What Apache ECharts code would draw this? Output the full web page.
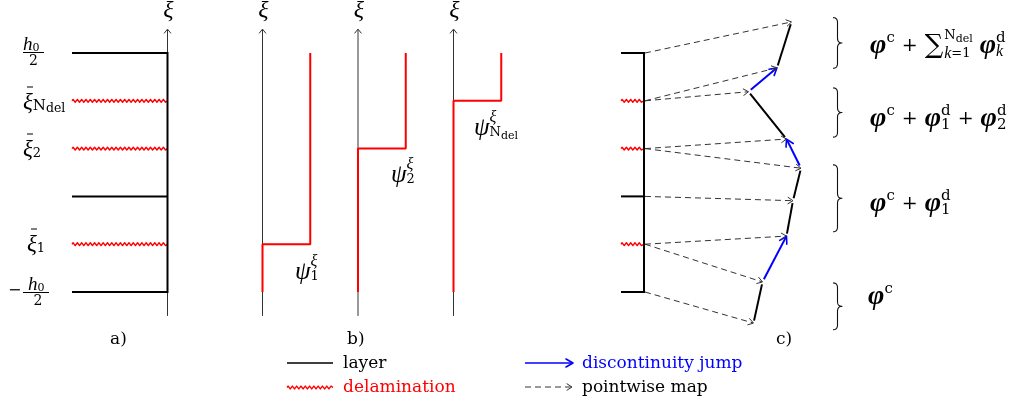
<!DOCTYPE html>
<html><head><meta charset="utf-8">
<script src="https://cdn.jsdelivr.net/npm/echarts@6/dist/echarts.min.js"></script>
<style>html,body{margin:0;padding:0;background:#fff}#c{width:1030px;height:405px}</style>
</head><body><div id="c"></div>
<script>
// ---------------- data ----------------
// thickness coordinate levels, bottom to top: -h0/2, ξ̄1, interface, ξ̄2, ξ̄Ndel, h0/2
const xiLevels = [-2.5, -1.5, -0.5, 0.5, 1.5, 2.5];
const levelKinds = ['layer', 'delam', 'layer', 'delam', 'delam', 'layer'];
const xiAxisExtent = [-3, 3];
// Heaviside functions ψ_k^ξ : jump location and value below / above the jump
const psiJumpXi = [-1.5, 0.5, 1.5];
const psiValues = [0, 1];
// deformed configuration: image of each level seen from below / from above  [x, ξ-like]
const deformedBelow = [[753.5, -3.15], [762.5, -2.29], [793, -0.59], [801, 0.09], [748.5, 1.69], [791.5, 3.15]];
const deformedAbove = [[753.5, -3.15], [786.5, -1.33], [793, -0.59], [786.5, 0.70], [777, 2.19], [791.5, 3.15]];
// braces grouping the deformed layers: [top, bottom]
const braceRanges = [[3.24, 2.18], [1.77, 0.74], [0.16, -1.24], [-2.31, -3.29]];

// ---------------- layout constants ----------------
const Y0 = 172.5, S = 47.8;            // pixel of ξ = 0, px per ξ unit
const PSI_W = 47.75;                    // px per unit of ψ
const panelA = { left: 72, axis: 167.5 };
const panelBAxes = [262.5, 358, 453.5];
const panelC = { left: 621, axis: 644, mapStart: 645 };
const braceX = 833;

// ---------------- helpers (pixel-space shapes) ----------------
function segEl(a, b, st) {
  return { type: 'line', shape: { x1: a[0], y1: a[1], x2: b[0], y2: b[1] },
    style: Object.assign({ fill: 'none', lineCap: 'butt' }, st) };
}
function shrink(a, b, s0, s1) {
  const dx = b[0] - a[0], dy = b[1] - a[1], L = Math.hypot(dx, dy) || 1, ux = dx / L, uy = dy / L;
  return [[a[0] + ux * s0, a[1] + uy * s0], [b[0] - ux * s1, b[1] - uy * s1], ux, uy];
}
function arrowEls(a, b, o) {
  const [s, e, ux, uy] = shrink(a, b, o.s0 || 0, o.lw * 0.6);
  const w1 = [b[0] - ux * o.hl - uy * o.hw, b[1] - uy * o.hl + ux * o.hw];
  const w2 = [b[0] - ux * o.hl + uy * o.hw, b[1] - uy * o.hl - ux * o.hw];
  return [
    segEl(s, e, { stroke: o.stroke, lineWidth: o.lw, lineDash: o.dash || null }),
    { type: 'polyline', shape: { points: [w1, b, w2] },
      style: { stroke: o.stroke, lineWidth: o.hlw || o.lw, fill: 'none', lineJoin: 'round', lineCap: 'round' } }
  ];
}
function zigzagEl(x1, x2, y, o) {
  const pts = [[x1, y]];
  const half = o.period / 2;
  let k = 0;
  for (let x = x1 + half / 2; x < x2 - half / 4; x += half, k++) pts.push([x, y + (k % 2 ? o.amp : -o.amp)]);
  pts.push([x2, y]);
  return { type: 'polyline', shape: { points: pts },
    style: { stroke: o.stroke, lineWidth: o.lw, fill: 'none', lineJoin: 'round' } };
}
function quad(pts, a, c, b) {
  for (let t = 0; t <= 1.0001; t += 0.1) {
    const u = 1 - t;
    pts.push([u * u * a[0] + 2 * u * t * c[0] + t * t * b[0], u * u * a[1] + 2 * u * t * c[1] + t * t * b[1]]);
  }
}
function braceEl(x0, yT, yB) {
  const tip = 9, xm = x0 + tip / 2, r = 5, ym = (yT + yB) / 2, pts = [];
  quad(pts, [x0, yT], [xm, yT], [xm, yT + r]);
  quad(pts, [xm, ym - r], [xm, ym], [x0 + tip, ym]);
  quad(pts, [x0 + tip, ym], [xm, ym], [xm, ym + r]);
  quad(pts, [xm, yB - r], [xm, yB], [x0, yB]);
  return { type: 'polyline', shape: { points: pts },
    style: { stroke: '#111', lineWidth: 1.1, fill: 'none', lineJoin: 'round' } };
}

const ST = {
  layer: { stroke: '#000', lineWidth: 2 },
  wavy: { stroke: '#ff0000', lw: 1.4, period: 4.3, amp: 1.4 },
  axis: { stroke: '#333', lw: 1, hl: 4, hw: 3.2 },
  jump: { stroke: '#0000ff', lw: 2, hl: 7, hw: 4, hlw: 1.6, s0: 3 },
  map: { stroke: '#333', lw: 1, hl: 5, hw: 3.2, dash: [6, 4] }
};

function cs(name, data, render) {
  return { type: 'custom', name, coordinateSystem: 'cartesian2d', data, clip: false, silent: true,
    animation: false, encode: { x: 0, y: 1 },
    renderItem: (p, api) => ({ type: 'group', children: render(api) }) };
}
const V = (api, i) => api.value(i);

// ---------------- series ----------------
const series = [];
const layerIdx = xiLevels.map((v, i) => i).filter(i => levelKinds[i] === 'layer');
const delamIdx = xiLevels.map((v, i) => i).filter(i => levelKinds[i] === 'delam');

series.push(cs('axes', [panelA.axis, ...panelBAxes].map(x => [x, xiAxisExtent[0], xiAxisExtent[1]]), api =>
  arrowEls(api.coord([V(api, 0), V(api, 1)]), api.coord([V(api, 0), V(api, 2)]), ST.axis)));

function layerSeries(left, right) {
  series.push(cs('layers', layerIdx.map(i => [left, xiLevels[i], right]), api =>
    [segEl(api.coord([V(api, 0), V(api, 1)]), api.coord([V(api, 2), V(api, 1)]), ST.layer)]));
  series.push(cs('delaminations', delamIdx.map(i => [left, xiLevels[i], right]), api => {
    const a = api.coord([V(api, 0), V(api, 1)]), b = api.coord([V(api, 2), V(api, 1)]);
    return [zigzagEl(a[0], b[0], a[1], ST.wavy)];
  }));
  series.push(cs('thickness', [[right, xiLevels[0], xiLevels[xiLevels.length - 1]]], api =>
    [segEl(api.coord([V(api, 0), V(api, 1)]), api.coord([V(api, 0), V(api, 2)]), { stroke: '#000', lineWidth: 2, lineCap: 'square' })]));
}
layerSeries(panelA.left, panelA.axis);
layerSeries(panelC.left, panelC.axis);

psiJumpXi.forEach((jx, k) => {
  const ax = panelBAxes[k];
  series.push({
    type: 'line', name: 'psi' + k, silent: true, animation: false, showSymbol: false, symbol: 'none',
    lineStyle: { color: '#ff0000', width: 2 },
    data: [[ax + psiValues[0] * PSI_W, xiLevels[0]], [ax + psiValues[0] * PSI_W, jx],
           [ax + psiValues[1] * PSI_W, jx], [ax + psiValues[1] * PSI_W, xiLevels[xiLevels.length - 1]]]
  });
});

const segs = [];
for (let i = 0; i < xiLevels.length - 1; i++) segs.push([...deformedAbove[i], ...deformedBelow[i + 1]]);
series.push(cs('deformed', segs, api => {
  const [s, e] = shrink(api.coord([V(api, 0), V(api, 1)]), api.coord([V(api, 2), V(api, 3)]), 2.5, 2.5);
  return [segEl(s, e, { stroke: '#000', lineWidth: 2 })];
}));
series.push(cs('jumps', delamIdx.map(i => [...deformedBelow[i], ...deformedAbove[i]]), api =>
  arrowEls(api.coord([V(api, 0), V(api, 1)]), api.coord([V(api, 2), V(api, 3)]), ST.jump)));
const maps = [];
xiLevels.forEach((lv, i) => {
  maps.push([panelC.mapStart, lv, ...deformedBelow[i]]);
  if (levelKinds[i] === 'delam') maps.push([panelC.mapStart, lv, ...deformedAbove[i]]);
});
series.push(cs('maps', maps, api =>
  arrowEls(api.coord([V(api, 0), V(api, 1)]), api.coord([V(api, 2), V(api, 3)]), ST.map)));
series.push(cs('braces', braceRanges.map(r => [braceX, r[0], r[1]]), api => {
  const a = api.coord([V(api, 0), V(api, 1)]), b = api.coord([V(api, 0), V(api, 2)]);
  return [braceEl(a[0], a[1], b[1])];
}));

// ---------------- texts ----------------
const FI = '"Liberation Serif", serif';      // math italic
const FR = '"DejaVu Serif", serif';          // roman
const mctx = document.createElement('canvas').getContext('2d');
const fnt = p => {
  const it = p.st && p.st.includes('i'), bd = p.st && p.st.includes('b');
  return (it ? 'italic ' : '') + (bd ? 'bold ' : '') + p.s + 'px ' + (it ? FI : FR);
};
const tw = (t, f) => { mctx.font = f; return mctx.measureText(t).width; };
const G = [];
function put(x, y, t, f, color, align) {
  G.push({ type: 'text', x, y, silent: true, z: 10,
    style: { text: t, font: f, fill: color || '#000', textAlign: align || 'left', textVerticalAlign: 'middle',
      align: align || 'left', verticalAlign: 'middle' } });
}
function row(x, y, parts, color) {
  for (const p of parts) {
    if (p.stack) { let mx = x; for (const r of p.stack) mx = Math.max(mx, row(x, y, r, color)); x = mx; continue; }
    x += p.gl || 0;
    const f = fnt(p);
    put(x, y + (p.dy || 0), p.t, f, p.c || color);
    x += tw(p.t, f) + (p.gr || 0);
  }
  return x;
}
function hline(x1, x2, y, color, w) { G.push(segEl([x1, y], [x2, y], { stroke: color || '#000', lineWidth: w || 1 })); }

// axis titles
[panelA.axis, ...panelBAxes].forEach(x => put(x + 1, 11, 'ξ', fnt({ s: 24, st: 'i' }), '#000', 'center'));
// panel a labels
row(23, 45, [{ t: 'h', s: 19, st: 'i' }, { t: '0', s: 11, dy: 3 }]); hline(23, 44, 52.5); put(33.5, 61.5, '2', fnt({ s: 14 }), '#000', 'center');
row(23, 103, [{ t: 'ξ', s: 23, st: 'i' }, { t: 'N', s: 15, dy: 3 }, { t: 'del', s: 12.5, dy: 6 }]); hline(27, 33, 87);
row(23, 150, [{ t: 'ξ', s: 23, st: 'i' }, { t: '2', s: 13, dy: 4 }]); hline(27, 33, 134);
row(27, 245, [{ t: 'ξ', s: 23, st: 'i' }, { t: '1', s: 13, dy: 4 }]); hline(31, 37, 229);
put(8, 291, '−', fnt({ s: 16 })); row(28, 285, [{ t: 'h', s: 19, st: 'i' }, { t: '0', s: 11, dy: 3 }]); hline(23, 49, 292.5); put(38, 301.5, '2', fnt({ s: 14 }), '#000', 'center');
put(110, 340, 'a)', fnt({ s: 17 })); put(347, 340, 'b)', fnt({ s: 17 })); put(776, 340, 'c)', fnt({ s: 17 }));
// ψ labels
const psi = { t: 'ψ', s: 25, st: 'i' };
const xiSup = { t: 'ξ', s: 16, st: 'i', dy: -10 };
row(295, 272, [psi, { stack: [[xiSup], [{ t: '1', s: 13, dy: 5 }]] }]);
row(391, 175, [psi, { stack: [[xiSup], [{ t: '2', s: 13, dy: 5 }]] }]);
row(474, 128, [psi, { stack: [[xiSup], [{ t: 'N', s: 13, dy: 5 }, { t: 'del', s: 11, dy: 8 }]] }]);
// formulas
const phi = () => ({ t: 'φ', s: 28, st: 'bi' });
const sup = t => ({ t, s: 15, dy: -8 });
const plus = () => ({ t: '+', s: 19, gl: 7, gr: 7 });
const supsub = (a, b) => ({ stack: [[{ t: a, s: 15, dy: -8 }], [{ t: b, s: 15, dy: 6 }]] });
row(870, 46, [phi(), sup('c'), plus(), { t: '∑', s: 26, gr: 1 },
  { stack: [[{ t: 'N', s: 13, dy: -10 }, { t: 'del', s: 11, dy: -7 }], [{ t: 'k', s: 16, st: 'i', dy: 8 }, { t: '=1', s: 13, dy: 8 }]] },
  Object.assign(phi(), { gl: 7 }), { stack: [[{ t: 'd', s: 15, dy: -8 }], [{ t: 'k', s: 16, st: 'i', dy: 6 }]] }]);
row(870, 119, [phi(), sup('c'), plus(), phi(), supsub('d', '1'), plus(), phi(), supsub('d', '2')]);
row(870, 204, [phi(), sup('c'), plus(), phi(), supsub('d', '1')]);
row(868, 297, [phi(), sup('c')]);

// legend
G.push(segEl([287, 363], [333, 363], { stroke: '#000', lineWidth: 1.6 }));
put(343, 364, 'layer', fnt({ s: 17 }));
G.push(zigzagEl(287, 333, 387.5, ST.wavy));
put(343, 388, 'delamination', fnt({ s: 17 }), '#ff0000');
arrowEls([525, 363], [573, 363], Object.assign({}, ST.jump, { s0: 0, lw: 1.6 })).forEach(e => G.push(e));
put(582, 364, 'discontinuity jump', fnt({ s: 17 }), '#0000ff');
arrowEls([525, 387], [572, 387], ST.map).forEach(e => G.push(e));
put(582, 388, 'pointwise map', fnt({ s: 17 }));

const chart = echarts.init(document.getElementById('c'), null, { renderer: 'canvas' });
chart.setOption({
  animation: false,
  backgroundColor: '#fff',
  grid: { left: 0, right: 0, top: 0, bottom: 0, containLabel: false },
  xAxis: { type: 'value', min: 0, max: 1030, show: false },
  yAxis: { type: 'value', min: (Y0 - 405) / S, max: Y0 / S, show: false },
  series,
  graphic: { elements: G }
});
</script></body></html>
